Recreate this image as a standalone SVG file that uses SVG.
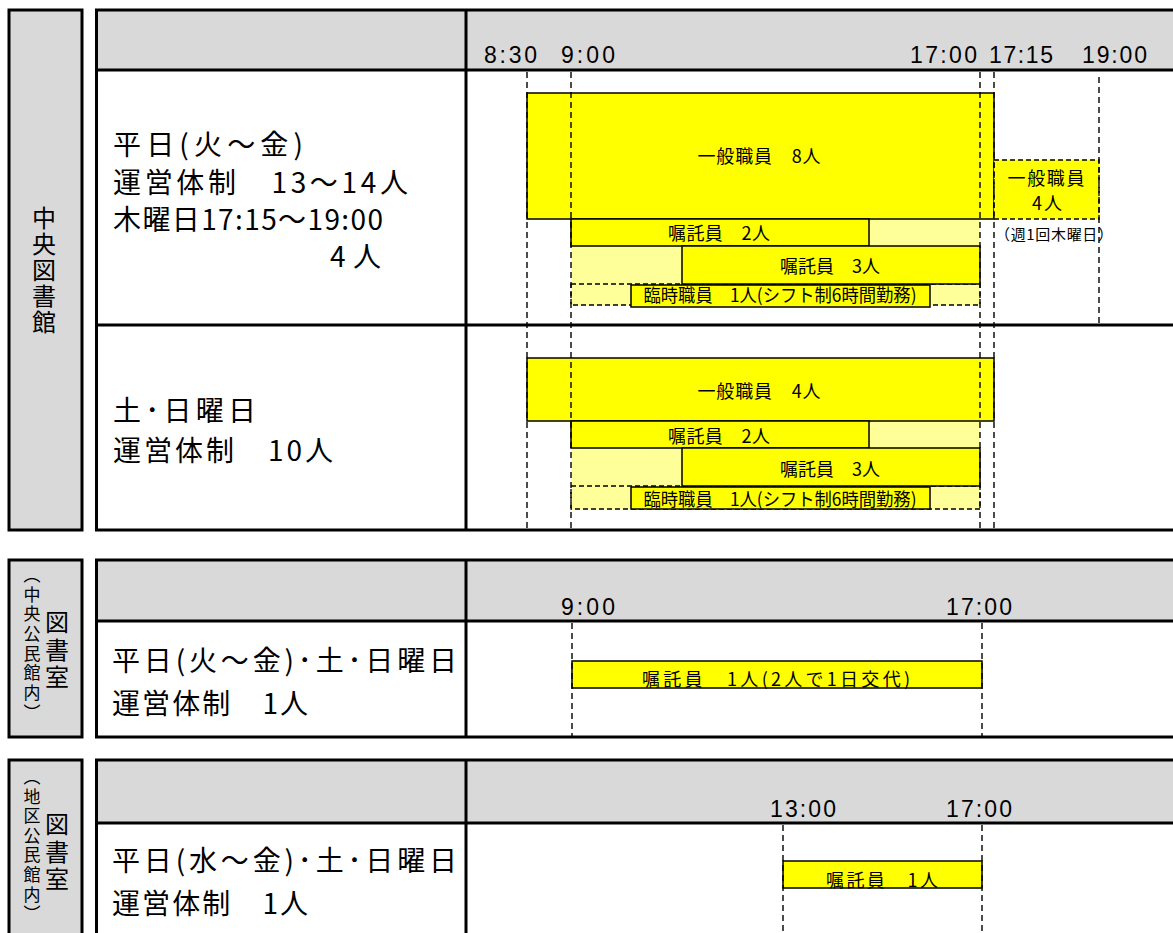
<svg xmlns="http://www.w3.org/2000/svg" width="1173" height="933" viewBox="0 0 1173 933">
<style>
.side{fill:#d9d9d9;stroke:#000;stroke-width:3}
.hdr{fill:#d9d9d9}
.body{fill:#fff}
.frame{fill:none;stroke:#000;stroke-width:3}
.ln{stroke:#000;stroke-width:3;fill:none}
.bar{fill:#ffff00;stroke:#000;stroke-width:1.5}
.lt{fill:#ffff99}
.ltd{fill:#ffff99;stroke:#000;stroke-width:1.3;stroke-dasharray:5 3}
.dbox{fill:#ffff00;stroke:#000;stroke-width:1.3;stroke-dasharray:5 3}
.dash{stroke:#000;stroke-width:1.4;stroke-dasharray:6 4;fill:none}
.big{font-family:"Noto Sans CJK JP","Noto Sans CJK SC",sans-serif;font-size:28px;fill:#000}
.time{font-family:"Liberation Sans","Noto Sans CJK JP",sans-serif;font-size:23px;fill:#000}
.lab{font-family:"Noto Sans CJK JP","Noto Sans CJK SC",sans-serif;font-size:18px;fill:#000;text-anchor:middle}
.small{font-family:"Noto Sans CJK JP","Noto Sans CJK SC",sans-serif;font-size:15px;fill:#000}
.vside{font-family:"Noto Sans CJK JP","Noto Sans CJK SC",sans-serif;font-size:24px;fill:#000;writing-mode:vertical-rl;text-orientation:upright}
.vsmall{font-family:"Noto Sans CJK JP","Noto Sans CJK SC",sans-serif;font-size:17px;fill:#000;writing-mode:vertical-rl;text-orientation:upright;letter-spacing:2.7px}
</style>

<!-- Section 1: 中央図書館 -->
<g id="sec1">
  <g id="sec1-side">
    <rect class="side" x="9" y="10" width="73" height="520"/>
    <text class="vside" x="44" y="206" style="letter-spacing:2px">中央図書館</text>
  </g>
  <rect class="body" x="96.5" y="10" width="1090" height="520"/>
  <rect class="hdr" x="96.5" y="10" width="1090" height="60"/>
  <g id="sec1-times">
    <text class="time" x="484" y="63" textLength="53" lengthAdjust="spacing">8:30</text>
    <text class="time" x="561" y="63" textLength="54" lengthAdjust="spacing">9:00</text>
    <text class="time" x="910" y="63" textLength="67" lengthAdjust="spacing">17:00</text>
    <text class="time" x="989" y="63" textLength="64" lengthAdjust="spacing">17:15</text>
    <text class="time" x="1082" y="63" textLength="65" lengthAdjust="spacing">19:00</text>
  </g>
  <g id="sec1-weekday">
    <text class="big" x="113" y="155" textLength="190" lengthAdjust="spacing">平日(火～金)</text>
    <text class="big" x="113" y="193" textLength="295" lengthAdjust="spacing">運営体制　13～14人</text>
    <text class="big" x="113" y="230" textLength="270" lengthAdjust="spacing">木曜日17:15～19:00</text>
    <text class="big" x="330" y="267" textLength="51" lengthAdjust="spacing">4人</text>
  </g>
  <g id="sec1-weekday-bars">
    <rect class="lt" x="571" y="219" width="409" height="86"/>
    <rect class="ltd" x="571" y="284" width="409" height="21"/>
    <g id="s1-general8"><rect class="bar" x="527" y="93" width="467" height="126"/><text class="lab" x="759" y="163" textLength="123" lengthAdjust="spacing">一般職員　8人</text></g>
    <g id="s1-general4thu"><rect class="dbox" x="994" y="160" width="105" height="59"/>
      <text class="lab" x="1046" y="185" textLength="77" lengthAdjust="spacing">一般職員</text>
      <text class="lab" x="1047" y="210" textLength="30" lengthAdjust="spacing">4人</text>
    </g>
    <text class="small" x="995" y="240" textLength="118" lengthAdjust="spacing">（週1回木曜日）</text>
    <g id="s1-shokutaku2"><rect class="bar" x="571" y="219" width="298" height="27"/><text class="lab" x="719" y="240" textLength="102" lengthAdjust="spacing">嘱託員　2人</text></g>
    <g id="s1-shokutaku3"><rect class="bar" x="682" y="246" width="298" height="38"/><text class="lab" x="830" y="273" textLength="100" lengthAdjust="spacing">嘱託員　3人</text></g>
    <g id="s1-rinji"><rect class="bar" x="631" y="285" width="299" height="22"/><text class="lab" x="780" y="302" textLength="273" lengthAdjust="spacingAndGlyphs">臨時職員　1人(シフト制6時間勤務)</text></g>
  </g>
  <g id="sec1-weekend">
    <text class="big" x="113" y="421" textLength="143" lengthAdjust="spacing">土･日曜日</text>
    <text class="big" x="113" y="461" textLength="220" lengthAdjust="spacing">運営体制　10人</text>
  </g>
  <g id="sec1-weekend-bars">
    <rect class="lt" x="571" y="421" width="409" height="88"/>
    <rect class="ltd" x="571" y="486" width="409" height="23"/>
    <g id="s1w-general4"><rect class="bar" x="527" y="358" width="467" height="63"/><text class="lab" x="759" y="398" textLength="123" lengthAdjust="spacing">一般職員　4人</text></g>
    <g id="s1w-shokutaku2"><rect class="bar" x="571" y="421" width="298" height="27"/><text class="lab" x="719" y="443" textLength="102" lengthAdjust="spacing">嘱託員　2人</text></g>
    <g id="s1w-shokutaku3"><rect class="bar" x="682" y="448" width="298" height="38"/><text class="lab" x="830" y="476" textLength="100" lengthAdjust="spacing">嘱託員　3人</text></g>
    <g id="s1w-rinji"><rect class="bar" x="631" y="487" width="299" height="22"/><text class="lab" x="780" y="506" textLength="273" lengthAdjust="spacingAndGlyphs">臨時職員　1人(シフト制6時間勤務)</text></g>
  </g>
</g>

<!-- Section 2 -->
<g id="sec2">
  <g id="sec2-side">
    <rect class="side" x="9" y="560" width="73" height="177"/>
    <text class="vsmall" x="32" y="566">（中央公民館内）</text>
    <text class="vside" x="57" y="610" style="letter-spacing:3.5px">図書室</text>
  </g>
  <rect class="body" x="96.5" y="560" width="1090" height="177"/>
  <rect class="hdr" x="96.5" y="560" width="1090" height="61"/>
  <text class="time" x="561" y="615" textLength="54" lengthAdjust="spacing">9:00</text>
  <text class="time" x="946" y="615" textLength="66" lengthAdjust="spacing">17:00</text>
  <text class="big" x="112" y="671" textLength="345" lengthAdjust="spacing">平日(火～金)･土･日曜日</text>
  <text class="big" x="112" y="714" textLength="196" lengthAdjust="spacing">運営体制　1人</text>
  <g id="s2-bar"><rect class="bar" x="572" y="661" width="410" height="27"/><text class="lab" x="776" y="686" textLength="268" lengthAdjust="spacing">嘱託員　1人(2人で1日交代)</text></g>
</g>

<!-- Section 3 -->
<g id="sec3">
  <g id="sec3-side">
    <rect class="side" x="9" y="760" width="73" height="200"/>
    <text class="vsmall" x="32" y="768" style="letter-spacing:2.6px">（地区公民館内）</text>
    <text class="vside" x="57" y="812" style="letter-spacing:3.5px">図書室</text>
  </g>
  <rect class="body" x="96.5" y="760" width="1090" height="200"/>
  <rect class="hdr" x="96.5" y="760" width="1090" height="63"/>
  <text class="time" x="770" y="817" textLength="66" lengthAdjust="spacing">13:00</text>
  <text class="time" x="946" y="817" textLength="66" lengthAdjust="spacing">17:00</text>
  <text class="big" x="112" y="871" textLength="345" lengthAdjust="spacing">平日(水～金)･土･日曜日</text>
  <text class="big" x="112" y="914" textLength="196" lengthAdjust="spacing">運営体制　1人</text>
  <g id="s3-bar"><rect class="bar" x="783" y="861" width="199" height="27"/><text class="lab" x="882" y="887" textLength="112" lengthAdjust="spacing">嘱託員　1人</text></g>
</g>

<!-- time guide lines -->
<g id="connectors">
  <line class="dash" x1="527" y1="72" x2="527" y2="529"/>
  <line class="dash" x1="571" y1="72" x2="571" y2="529"/>
  <line class="dash" x1="980" y1="72" x2="980" y2="529"/>
  <line class="dash" x1="994" y1="72" x2="994" y2="529"/>
  <line class="dash" x1="1099" y1="77" x2="1099" y2="324"/>
  <line class="dash" x1="572" y1="623" x2="572" y2="736"/>
  <line class="dash" x1="982" y1="623" x2="982" y2="736"/>
  <line class="dash" x1="783" y1="825" x2="783" y2="933"/>
  <line class="dash" x1="982" y1="825" x2="982" y2="933"/>
</g>

<!-- table frames -->
<g id="frames">
  <rect class="frame" x="96.5" y="10" width="1090" height="520"/>
  <line class="ln" x1="96.5" y1="70" x2="1180" y2="70"/>
  <line class="ln" x1="96.5" y1="325" x2="1180" y2="325"/>
  <line class="ln" x1="466" y1="10" x2="466" y2="530"/>
  <rect class="frame" x="96.5" y="560" width="1090" height="177"/>
  <line class="ln" x1="96.5" y1="621" x2="1180" y2="621"/>
  <line class="ln" x1="466" y1="560" x2="466" y2="737"/>
  <rect class="frame" x="96.5" y="760" width="1090" height="200"/>
  <line class="ln" x1="96.5" y1="823" x2="1180" y2="823"/>
  <line class="ln" x1="466" y1="760" x2="466" y2="960"/>
</g>
</svg>
